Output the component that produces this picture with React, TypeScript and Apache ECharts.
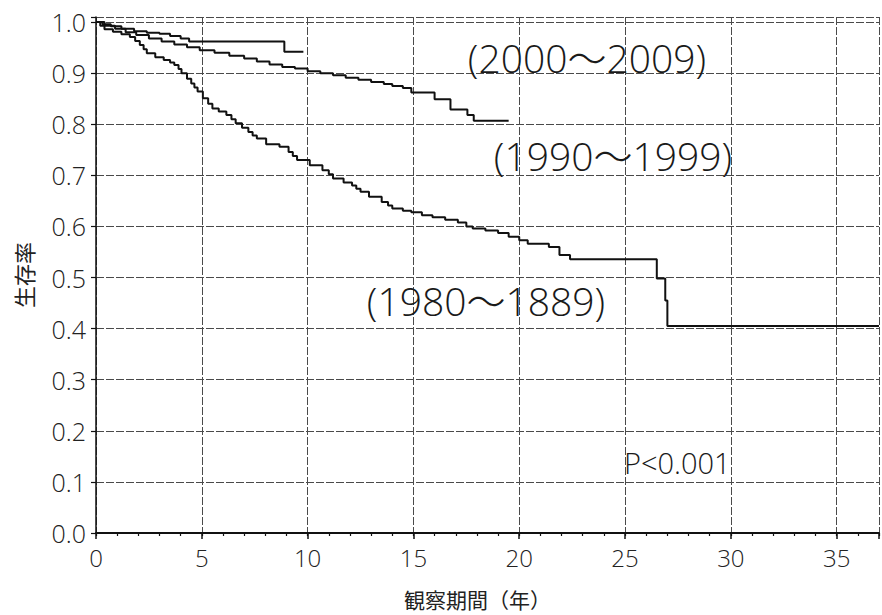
import React, { useEffect, useRef } from "react";
import * as echarts from "echarts";

const FONT = "'Open Sans', 'Noto Sans CJK JP', sans-serif";
const CJK = "'Noto Sans CJK JP', sans-serif";

const xTicks = [0, 5, 10, 15, 20, 25, 30, 35];
const yTicks = [0, 0.1, 0.2, 0.3, 0.4, 0.5, 0.6, 0.7, 0.8, 0.9, 1.0];

const xName = "観察期間（年）";
const yName = "生存率";

const cohortLabels = ["(2000～2009)", "(1990～1999)", "(1980～1889)"];
const pLabel = "P<0.001";

// Kaplan-Meier curves: [years, survival]
const surv2000: [number, number][] = [
  [0, 1.0], [0.3, 0.996], [0.7, 0.992], [1.2, 0.987], [1.8, 0.982], [2.4, 0.979],
  [3.0, 0.977], [3.5, 0.973], [4.0, 0.968], [4.4, 0.962], [8.9, 0.942], [9.8, 0.942],
];

const surv1990: [number, number][] = [
  [0, 1.0], [0.4, 0.993], [0.9, 0.987], [1.4, 0.980], [1.9, 0.975], [2.5, 0.968],
  [3.1, 0.962], [3.7, 0.956], [4.3, 0.951], [4.9, 0.945], [5.6, 0.940], [6.3, 0.934],
  [7.0, 0.929], [7.6, 0.923], [8.2, 0.917], [8.8, 0.912], [9.4, 0.909], [10.0, 0.904],
  [10.6, 0.900], [11.2, 0.896], [11.8, 0.891], [12.4, 0.887], [13.0, 0.883],
  [13.6, 0.879], [14.0, 0.875], [14.5, 0.871], [14.9, 0.862], [16.0, 0.849],
  [16.75, 0.829], [17.55, 0.818], [17.85, 0.807], [19.5, 0.807],
];

const surv1980: [number, number][] = [
  [0, 1.0], [0.2, 0.993], [0.4, 0.986], [0.8, 0.981], [1.2, 0.976], [1.6, 0.971],
  [1.85, 0.963], [2.07, 0.955], [2.25, 0.947], [2.4, 0.939], [2.8, 0.931], [3.2, 0.926],
  [3.5, 0.921], [3.7, 0.916], [3.9, 0.908], [4.04, 0.900], [4.3, 0.889], [4.5, 0.880],
  [4.65, 0.872], [4.8, 0.864], [5.05, 0.851], [5.3, 0.840], [5.5, 0.831], [5.8, 0.825],
  [6.16, 0.818], [6.4, 0.810], [6.6, 0.802], [6.9, 0.793], [7.2, 0.785], [7.4, 0.778],
  [7.6, 0.772], [8.04, 0.761], [8.67, 0.756], [9.1, 0.746], [9.3, 0.738], [9.5, 0.730],
  [10.1, 0.720], [10.7, 0.710], [11.0, 0.702], [11.2, 0.694], [11.7, 0.686],
  [12.1, 0.680], [12.3, 0.674], [12.5, 0.668], [12.9, 0.658], [13.5, 0.648],
  [13.8, 0.641], [14.0, 0.635], [14.5, 0.631], [14.9, 0.628], [15.4, 0.622],
  [15.9, 0.618], [16.5, 0.613], [17.1, 0.608], [17.5, 0.600], [17.8, 0.596],
  [18.4, 0.592], [19.0, 0.587], [19.5, 0.580], [20.0, 0.573], [20.4, 0.566],
  [21.4, 0.560], [21.9, 0.544], [22.4, 0.536], [26.5, 0.498], [26.9, 0.455],
  [27.0, 0.405], [37, 0.405],
];

export default function App() {
  const ref = useRef<HTMLDivElement>(null);

  useEffect(() => {
    if (!ref.current) return;
    const chart = echarts.init(ref.current, undefined, { renderer: "svg" });
    const gridColor = "#4a4a4a";
    const lineStyle = { color: "#111", width: 2 };
    const mkSeries = (name: string, data: [number, number][]) => ({
      name,
      type: "line",
      step: "end",
      data,
      showSymbol: false,
      symbol: "none",
      lineStyle,
      xAxisIndex: 0,
      yAxisIndex: 0,
      z: 5,
    });
    const labelFont = `300 39px ${FONT}`;

    chart.setOption({
      animation: false,
      backgroundColor: "#fff",
      grid: { left: 96, right: 1, top: 17, bottom: 82, containLabel: false },
      xAxis: [
        {
          type: "value",
          min: xTicks[0],
          max: 37,
          interval: 5,
          name: xName,
          nameLocation: "middle",
          nameGap: 55,
          nameTextStyle: { fontFamily: CJK, fontSize: 21, color: "#222", padding: [0, 20, 0, 0] },
          axisLine: { show: true, lineStyle: { color: "#111", width: 2 } },
          axisTick: { show: true, length: 6, lineStyle: { color: "#111", width: 1.5 } },
          axisLabel: {
            margin: 12,
            fontFamily: FONT,
            fontWeight: 300,
            fontSize: 24,
            color: "#222",
            formatter: (v: number) => (xTicks.includes(v) ? String(v) : ""),
          },
          splitLine: { show: true, lineStyle: { color: gridColor, width: 1, type: [8, 2] } },
        },
        {
          type: "value",
          min: 0,
          max: 37,
          interval: 1,
          position: "bottom",
          axisLine: { show: false },
          axisTick: { show: true, length: 3, lineStyle: { color: "#111", width: 1.2 } },
          axisLabel: { show: false },
          splitLine: { show: false },
        },
      ],
      yAxis: {
        type: "value",
        min: yTicks[0],
        max: 1.01,
        interval: 0.1,
        name: yName,
        nameLocation: "middle",
        nameGap: 62,
        nameRotate: 90,
        nameTextStyle: { fontFamily: CJK, fontSize: 22, color: "#222" },
        axisLine: { show: true, lineStyle: { color: "#111", width: 1.5 } },
        axisTick: { show: true, length: 5, lineStyle: { color: "#111", width: 1.2 } },
        axisLabel: {
          margin: 10,
          fontFamily: FONT,
          fontWeight: 300,
          fontSize: 25,
          color: "#222",
          formatter: (v: number) =>
            yTicks.some((t) => Math.abs(t - v) < 1e-6) ? v.toFixed(1) : "",
        },
        splitLine: { show: true, lineStyle: { color: gridColor, width: 1, type: [8, 2] } },
      },
      series: [
        mkSeries("2000", surv2000),
        mkSeries("1990", surv1990),
        mkSeries("1980", surv1980),
      ],
      graphic: [
        {
          type: "text",
          x: 587,
          y: 57,
          z: 10,
          style: { text: cohortLabels[0], font: labelFont, fill: "#1a1a1a", align: "center", verticalAlign: "middle" },
        },
        {
          type: "text",
          x: 613,
          y: 155,
          z: 10,
          style: { text: cohortLabels[1], font: labelFont, fill: "#1a1a1a", align: "center", verticalAlign: "middle" },
        },
        {
          type: "text",
          x: 486,
          y: 300,
          z: 10,
          style: { text: cohortLabels[2], font: labelFont, fill: "#1a1a1a", align: "center", verticalAlign: "middle" },
        },
        {
          type: "text",
          x: 624,
          y: 462,
          z: 10,
          style: { text: pLabel, font: `300 29px ${FONT}`, fill: "#1a1a1a", align: "left", verticalAlign: "middle" },
        },
      ],
    });
    return () => chart.dispose();
  }, []);

  return <div ref={ref} style={{ width: 882, height: 615, position: "absolute", left: 0, top: 0 }} />;
}
